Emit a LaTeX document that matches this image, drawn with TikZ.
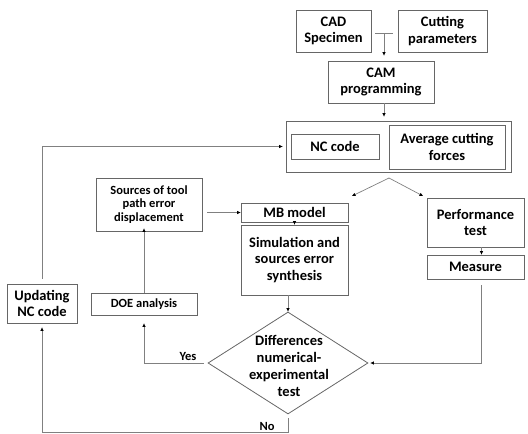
\documentclass[tikz,border=0pt]{standalone}
\usepackage{fontspec}
\setmainfont{Carlito}
\usetikzlibrary{arrows.meta,shapes.geometric,calc}
\begin{document}
\begin{tikzpicture}[x=1pt,y=-1pt,
  box/.style={draw=black!60, line width=0.8pt, inner sep=0pt, align=center,
    font=\bfseries\fontsize{14.5}{16.7}\selectfont},
  small/.style={font=\bfseries\fontsize{12.5}{13.4}\selectfont},
  lbl/.style={inner sep=0pt, font=\bfseries\fontsize{12.5}{14}\selectfont},
  conn/.style={draw=black!50, line width=0.7pt},
  arr/.style={conn, -{Triangle[length=3.5pt,width=3pt,color=black]}}]
\useasboundingbox (0,0) rectangle (528,434);
\node[box, minimum width=75pt, minimum height=42pt] (cad) at (333.5,31) {CAD\\Specimen};
\node[box, minimum width=89pt, minimum height=42pt] (cut) at (442.5,31) {Cutting\\parameters};
\node[box, minimum width=106pt, minimum height=42pt] (cam) at (381,82) {CAM\\programming};
\node[box, minimum width=225pt, minimum height=51pt] (big) at (398.5,146.5) {};
\node[box, minimum width=88pt, minimum height=25pt] (nc) at (335,146.5) {NC code};
\node[box, minimum width=116pt, minimum height=44pt] (avg) at (447,147) {Average cutting\\forces};
\node[box, minimum width=107pt, minimum height=19pt] (mb) at (294.5,212.5) {MB model};
\node[box, minimum width=107pt, minimum height=70pt] (sim) at (294.5,260) {Simulation and\\sources error\\synthesis};
\node[box, minimum width=97pt, minimum height=49pt] (perf) at (475.5,222.5) {Performance\\test};
\node[box, minimum width=97pt, minimum height=24pt] (meas) at (475.5,267) {Measure};
\node[box, small, minimum width=106pt, minimum height=53pt] (src) at (149,204.5) {Sources of tool\\path error\\displacement};
\node[box, small, minimum width=106pt, minimum height=22pt] (doe) at (144,304) {DOE analysis};
\node[box, minimum width=70pt, minimum height=39pt] (upd) at (42,303.5) {Updating\\NC code};
\node[diamond, draw=black!60, line width=0.8pt, minimum width=160pt, minimum height=102pt, inner sep=0pt] (dia) at (288,363) {};
\node[align=center, inner sep=0pt, font=\bfseries\fontsize{14.5}{16.7}\selectfont] (diatext) at (289,366) {Differences\\numerical-\\experimental\\test};
\node[lbl] (yes) at (188,356) {Yes};
\node[lbl] (no) at (267,426) {No};
% connectors
\coordinate (jL) at (375,33);
\coordinate (jR) at (393,33);
\coordinate (jM) at (384,33);
\draw[conn] (jL) -- (jR);
\draw[arr, shorten >=5pt] (jM) -- (jM |- cam.north);
\draw[arr, shorten >=4pt] (cam.south -| jM) -- (big.north -| jM);
\coordinate (apex) at (389,178);
\coordinate (tipL) at (352,196);
\coordinate (tipR) at (423,196);
\draw[arr] (apex) -- (tipL);
\draw[arr] (apex) -- (tipR);
\draw[arr] ([xshift=5pt]src.east |- mb.west) -- (mb.west);
\draw[arr] (mb.south) -- (sim.north);
\draw[arr] (sim.south -| dia.north) -- (dia.north);
\draw[arr] ([xshift=6pt]perf.south) -- ([xshift=6pt]meas.north);
\draw[arr, shorten >=2pt] ([xshift=6pt,yshift=-6pt]meas.south) |- (dia.east);
\draw[arr, shorten >=8pt] ([xshift=-4pt]dia.west) -| (doe.south);
\draw[arr, shorten >=-3pt] (doe.north) -- (doe.north |- src.south);
\coordinate (bot) at (288,432.5);
\draw[arr, shorten >=4pt] ([yshift=-4pt]dia.south) -- (bot) -| (upd.south);
\draw[arr, shorten >=3pt] ([yshift=5pt]upd.north) |- (big.west);
\end{tikzpicture}
\end{document}
